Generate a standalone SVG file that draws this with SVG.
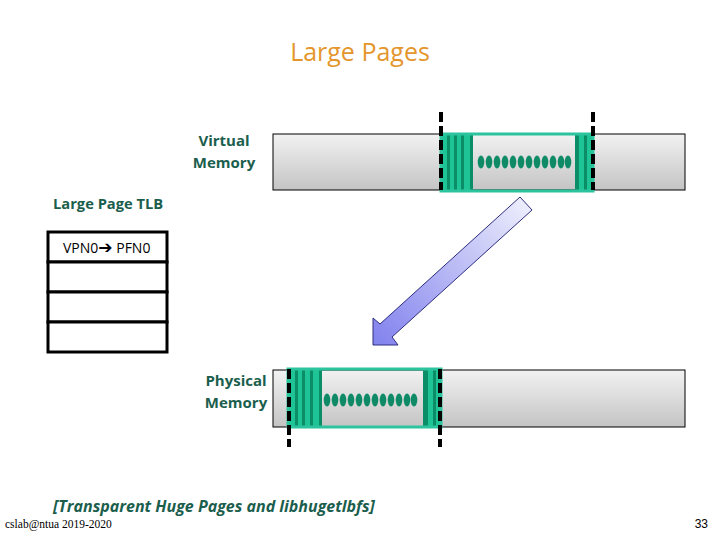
<svg xmlns="http://www.w3.org/2000/svg" width="720" height="540" viewBox="0 0 720 540">
<defs>
<linearGradient id="gray" x1="0" y1="0" x2="0" y2="1">
<stop offset="0" stop-color="#f2f2f2"/>
<stop offset="1" stop-color="#c4c4c4"/>
</linearGradient>
<linearGradient id="arrowGrad" x1="526" y1="203" x2="380" y2="340" gradientUnits="userSpaceOnUse">
<stop offset="0" stop-color="#ecedfc"/>
<stop offset="1" stop-color="#8585ee"/>
</linearGradient>
<style>
.bar{fill:url(#gray);stroke:#000;stroke-width:1}
.hl{fill:none;stroke:#2cc49e;stroke-width:3}
.lt{fill:#1fc496}
.dk{fill:#0b8e68}
.dot{fill:#0e8a66}
.dash{stroke:#000;stroke-width:4;stroke-dasharray:10 4;fill:none}
.lbl{font-family:"Open Sans","Liberation Sans",sans-serif;font-weight:bold;font-size:15px;fill:#1b5e4d}
.cell{fill:#fff;stroke:#000;stroke-width:3}
</style>
</defs>
<text x="360" y="61" text-anchor="middle" font-family="Open Sans, Liberation Sans, sans-serif" font-size="25" fill="#e4962c">Large Pages</text>
<g id="virtual-memory">
<rect class="bar" x="273" y="134" width="412" height="56"/>
<rect class="lt" x="441" y="134" width="32" height="57"/>
<rect class="dk" x="447" y="134" width="3" height="57"/>
<rect class="dk" x="454" y="134" width="3" height="57"/>
<rect class="dk" x="461" y="134" width="3" height="57"/>
<rect class="dk" x="470" y="134" width="3" height="57"/>
<rect class="lt" x="575" y="134" width="18" height="57"/>
<rect class="dk" x="575" y="134" width="4" height="57"/>
<rect class="dk" x="584" y="134" width="3" height="57"/>
<rect class="hl" x="441" y="134" width="152" height="57"/>
<g class="dot">
<ellipse cx="481" cy="162" rx="3.3" ry="6.5"/><ellipse cx="489" cy="162" rx="3.3" ry="6.5"/><ellipse cx="497" cy="162" rx="3.3" ry="6.5"/><ellipse cx="505" cy="162" rx="3.3" ry="6.5"/><ellipse cx="513" cy="162" rx="3.3" ry="6.5"/><ellipse cx="521" cy="162" rx="3.3" ry="6.5"/><ellipse cx="529" cy="162" rx="3.3" ry="6.5"/><ellipse cx="537" cy="162" rx="3.3" ry="6.5"/><ellipse cx="545" cy="162" rx="3.3" ry="6.5"/><ellipse cx="553" cy="162" rx="3.3" ry="6.5"/><ellipse cx="561" cy="162" rx="3.3" ry="6.5"/><ellipse cx="568" cy="162" rx="3.3" ry="6.5"/>
</g>
<line class="dash" x1="441" y1="112" x2="441" y2="190"/>
<line class="dash" x1="593" y1="112" x2="593" y2="190"/>
<text class="lbl" x="224" y="146" text-anchor="middle">Virtual</text>
<text class="lbl" x="224" y="168" text-anchor="middle">Memory</text>
</g>
<g id="physical-memory">
<rect class="bar" x="273" y="370" width="412" height="57"/>
<rect class="lt" x="288" y="369" width="34" height="58"/>
<rect class="dk" x="295" y="369" width="3" height="58"/>
<rect class="dk" x="302" y="369" width="3" height="58"/>
<rect class="dk" x="310" y="369" width="3" height="58"/>
<rect class="dk" x="319" y="369" width="3" height="58"/>
<rect class="lt" x="423" y="369" width="18" height="58"/>
<rect class="dk" x="423" y="369" width="5" height="58"/>
<rect class="dk" x="433" y="369" width="3" height="58"/>
<rect class="hl" x="288" y="369" width="153" height="58"/>
<g class="dot">
<ellipse cx="327" cy="400" rx="3.3" ry="6.5"/><ellipse cx="335" cy="400" rx="3.3" ry="6.5"/><ellipse cx="343" cy="400" rx="3.3" ry="6.5"/><ellipse cx="351" cy="400" rx="3.3" ry="6.5"/><ellipse cx="359" cy="400" rx="3.3" ry="6.5"/><ellipse cx="367" cy="400" rx="3.3" ry="6.5"/><ellipse cx="375" cy="400" rx="3.3" ry="6.5"/><ellipse cx="383" cy="400" rx="3.3" ry="6.5"/><ellipse cx="391" cy="400" rx="3.3" ry="6.5"/><ellipse cx="399" cy="400" rx="3.3" ry="6.5"/><ellipse cx="407" cy="400" rx="3.3" ry="6.5"/><ellipse cx="414" cy="400" rx="3.3" ry="6.5"/>
</g>
<line class="dash" x1="289" y1="369" x2="289" y2="447"/>
<line class="dash" x1="440" y1="369" x2="440" y2="447"/>
<text class="lbl" x="236" y="386" text-anchor="middle">Physical</text>
<text class="lbl" x="236" y="408" text-anchor="middle">Memory</text>
</g>
<g id="tlb">
<text class="lbl" x="53" y="209" style="font-size:14.7px">Large Page TLB</text>
<rect class="cell" x="48" y="232" width="119" height="30"/>
<rect class="cell" x="48" y="262" width="119" height="30"/>
<rect class="cell" x="48" y="292" width="119" height="30"/>
<rect class="cell" x="48" y="322" width="119" height="30"/>
<text x="63" y="253" font-family="Open Sans, Liberation Sans, sans-serif" font-size="14" fill="#000">VPN0<tspan font-family="DejaVu Sans, sans-serif" font-weight="bold" font-size="17">➔</tspan> PFN0</text>
</g>
<g id="connectors">
<polygon points="373,345 373,318 380,324 520,197 532,210 392,337 398,345" fill="url(#arrowGrad)" stroke="#2e2e80" stroke-width="1"/>
</g>
<text x="53" y="512" font-family="Open Sans, Liberation Sans, sans-serif" font-size="16" font-weight="bold" font-style="italic" fill="#1b5e4d">[Transparent Huge Pages and libhugetlbfs]</text>
<text x="5" y="528" font-family="Liberation Serif, serif" font-size="11.5" fill="#000">cslab@ntua 2019-2020</text>
<text x="708" y="528" text-anchor="end" font-family="Liberation Sans, sans-serif" font-size="12" fill="#000">33</text>
</svg>
